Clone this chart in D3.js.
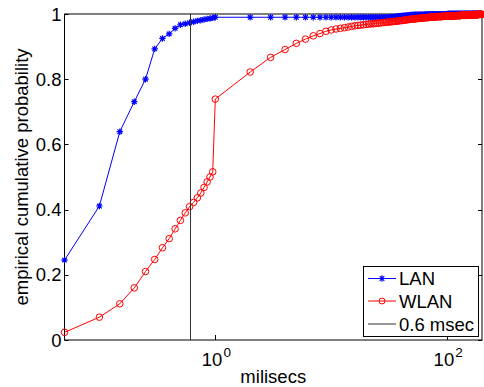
<!DOCTYPE html>
<html><head><meta charset="utf-8">
<script src="https://cdn.jsdelivr.net/npm/d3@7"></script>
<style>html,body{margin:0;padding:0;background:#fff;}svg{display:block;font-family:"Liberation Sans",Arial,sans-serif;}</style>
</head><body><svg id="c" width="484" height="387"></svg>
<script>
// Bins below 1 ms (step 0.05)
const lowX = [0.05,0.10,0.15,0.20,0.25,0.30,0.35,0.40,0.45,0.50,0.55,0.60,0.65,0.70,0.75,0.80,0.85,0.90,0.95,1.00];
const lanLowY  = [0.245,0.411,0.639,0.731,0.800,0.893,0.925,0.939,0.956,0.967,0.970,0.973,0.976,0.979,0.981,0.983,0.985,0.986,0.988,0.990];
const wlanLowY = [0.0235,0.070,0.111,0.160,0.210,0.247,0.283,0.311,0.341,0.367,0.390,0.409,0.422,0.436,0.451,0.468,0.485,0.500,0.516,0.739];
// Bins from 2 to 200 ms (step 1)
const highX = [2,3,4,5,6,7,8,9,10,11,12,13,14,15,16,17,18,19,20,21,22,23,24,25,26,27,28,29,30,
31,32,33,34,35,36,37,38,39,40,41,42,43,44,45,46,47,48,49,50,51,52,53,54,55,56,57,58,59,60,
61,62,63,64,65,66,67,68,69,70,71,72,73,74,75,76,77,78,79,80,81,82,83,84,85,86,87,88,89,90,
91,92,93,94,95,96,97,98,99,100,101,102,103,104,105,106,107,108,109,110,111,112,113,114,115,
116,117,118,119,120,121,122,123,124,125,126,127,128,129,130,131,132,133,134,135,136,137,138,139,140,
141,142,143,144,145,146,147,148,149,150,151,152,153,154,155,156,157,158,159,160,161,162,163,164,165,
166,167,168,169,170,171,172,173,174,175,176,177,178,179,180,181,182,183,184,185,186,187,188,189,190,
191,192,193,194,195,196,197,198,199,200];
const lanHighY = [
0.990,0.990,0.990,0.990,0.990,0.990,0.990,0.990,0.990,0.990,0.990,0.990,0.990,0.990,0.990,0.990,0.990,0.990,0.990,0.990,0.990,0.990,0.990,0.990,0.990,0.990,0.990,0.990,0.990,
0.990,0.990,0.991,0.991,0.991,0.992,0.992,0.993,0.993,0.994,
0.994,0.995,0.995,0.995,0.996,0.996,0.996,0.997,0.997,0.997,
0.997,0.998,0.998,0.998,0.998,0.998,0.998,0.998,0.998,0.998,
0.998,0.998,0.998,0.998,0.998,0.999,0.999,0.999,0.999,0.999,
0.999,0.999,0.999,0.999,0.999,0.999,0.999,0.999,0.999,0.999,
0.999,0.999,0.999,0.999,0.999,0.999,0.999,0.999,0.999,0.999,
0.999,0.999,0.999,0.999,0.999,0.999,0.999,0.999,0.999,0.999,
1,1,1,1,1,1,1,1,1,1,1,1,1,1,1,1,1,1,1,1,
1,1,1,1,1,1,1,1,1,1,1,1,1,1,1,1,1,1,1,1,
1,1,1,1,1,1,1,1,1,1,1,1,1,1,1,1,1,1,1,1,
1,1,1,1,1,1,1,1,1,1,1,1,1,1,1,1,1,1,1,1,
1,1,1,1,1,1,1,1,1,1];
const wlanHighY = [
0.822,0.867,0.891,0.910,0.923,0.933,0.940,0.947,0.951,0.954,0.956,0.958,0.960,0.962,0.964,0.965,0.966,0.967,0.968,
0.969,0.970,0.970,0.971,0.972,0.972,0.973,0.974,0.974,0.975,
0.975,0.976,0.976,0.977,0.977,0.978,0.978,0.979,0.979,0.980,
0.980,0.981,0.981,0.982,0.982,0.983,0.983,0.984,0.984,0.984,
0.985,0.985,0.985,0.986,0.986,0.986,0.987,0.987,0.987,0.987,
0.988,0.988,0.988,0.988,0.989,0.989,0.989,0.989,0.989,0.990,
0.990,0.990,0.990,0.990,0.991,0.991,0.991,0.991,0.991,0.991,
0.992,0.992,0.992,0.992,0.992,0.992,0.992,0.992,0.992,0.992,
0.993,0.993,0.993,0.993,0.993,0.993,0.993,0.993,0.993,0.993,
0.994,0.994,0.994,0.994,0.994,0.994,0.994,0.994,0.994,0.994,0.994,0.994,0.994,0.994,0.994,
0.995,0.995,0.995,0.995,0.995,0.995,0.995,0.995,0.995,0.995,0.995,0.995,0.995,0.995,0.995,
0.996,0.996,0.996,0.996,0.996,0.996,0.996,0.996,0.996,0.996,0.996,0.996,0.996,0.996,0.996,
0.997,0.997,0.997,0.997,0.997,0.997,0.997,0.997,0.997,0.997,0.997,0.997,0.997,0.997,0.997,0.997,0.997,0.997,0.997,0.997,
0.998,0.998,0.998,0.998,0.998,0.998,0.998,0.998,0.998,0.998,0.998,0.998,0.998,0.998,0.998,0.998,0.998,0.998,0.998,0.998,
0.999,0.999,0.999,0.999,0.999,0.999,0.999,0.999,0.999,0.999,0.999,0.999,0.999,0.999,0.999];
const thresholdMs = 0.6;
const seriesNames = ["LAN","WLAN","0.6 msec"];
const yTicks = [0,0.2,0.4,0.6,0.8,1];
const yTickLabels = ["0","0.2","0.4","0.6","0.8","1"];
const xTicks = [1,100];
const xTickBase = ["10","10"], xTickExp = ["0","2"];
const xLabel = "milisecs", yLabel = "empirical cumulative probability";

const svg = d3.select("#c");
const L = 64.5, R = 482, T = 14, B = 340;
const x = d3.scaleLog().domain([0.05,200]).range([L,R]);
const y = d3.scaleLinear().domain([0,1]).range([B,T]);
const FS = 18.5;

const lan = lowX.map((v,i)=>[v,lanLowY[i]]).concat(highX.map((v,i)=>[v,lanHighY[i]]));
const wlan = lowX.map((v,i)=>[v,wlanLowY[i]]).concat(highX.map((v,i)=>[v,wlanHighY[i]]));

// Axes box
const ax = svg.append("g");
ax.append("rect").attr("x",L).attr("y",T).attr("width",R-L).attr("height",B-T)
  .attr("fill","none").attr("stroke","#000").attr("stroke-width",1);
// y ticks
yTicks.forEach((t,i)=>{
  const yy = Math.round(y(t))+0.5;
  ax.append("line").attr("x1",L).attr("x2",L+4).attr("y1",yy).attr("y2",yy).attr("stroke","#000");
  ax.append("line").attr("x1",R).attr("x2",R-4).attr("y1",yy).attr("y2",yy).attr("stroke","#000");
  ax.append("text").attr("x",L-3).attr("y",y(t)).attr("dy","0.36em").attr("text-anchor","end")
    .attr("font-size",FS).text(yTickLabels[i]);
});
// x ticks
xTicks.forEach((t,i)=>{
  const xx = Math.round(x(t))+0.5;
  ax.append("line").attr("x1",xx).attr("x2",xx).attr("y1",B).attr("y2",B-5).attr("stroke","#000");
  ax.append("line").attr("x1",xx).attr("x2",xx).attr("y1",T).attr("y2",T+5).attr("stroke","#000");
  const tx = ax.append("text").attr("x",x(t)-13.5).attr("y",366).attr("font-size",FS);
  tx.append("tspan").text(xTickBase[i]);
  tx.append("tspan").attr("dy",-9).attr("dx",1).attr("font-size",13.5).text(xTickExp[i]);
});
ax.append("text").attr("x",(L+R)/2).attr("y",383).attr("text-anchor","middle").attr("font-size",FS).text(xLabel);
ax.append("text").attr("transform",`translate(28,${(T+B)/2}) rotate(-90)`).attr("text-anchor","middle")
  .attr("font-size",FS).text(yLabel);

const line = d3.line().x(d=>x(d[0])).y(d=>y(d[1]));
function star(g, cx, cy, col){
  const r=3.2, d=2.3;
  g.append("path").attr("d",`M${cx-r},${cy}L${cx+r},${cy}M${cx},${cy-r}L${cx},${cy+r}M${cx-d},${cy-d}L${cx+d},${cy+d}M${cx-d},${cy+d}L${cx+d},${cy-d}`)
   .attr("stroke",col).attr("stroke-width",1.2).attr("fill","none");
}
// LAN
const gl = svg.append("g");
gl.append("path").datum(lan).attr("d",line).attr("fill","none").attr("stroke","#0000ff").attr("stroke-width",1);
lan.forEach(d=>star(gl,x(d[0]),y(d[1]),"#0000ff"));
// WLAN
const gw = svg.append("g");
gw.append("path").datum(wlan).attr("d",line).attr("fill","none").attr("stroke","#ff0000").attr("stroke-width",1);
gw.selectAll("circle").data(wlan).join("circle").attr("cx",d=>x(d[0])).attr("cy",d=>y(d[1])).attr("r",3.3)
  .attr("fill","none").attr("stroke","#ff0000").attr("stroke-width",1);
// threshold
const vx = Math.round(x(thresholdMs))+0.5;
svg.append("line").attr("x1",vx).attr("x2",vx).attr("y1",T).attr("y2",B).attr("stroke","#333").attr("stroke-width",1);

// Legend
const lg = svg.append("g");
lg.append("rect").attr("x",363.5).attr("y",266.5).attr("width",115).attr("height",70)
  .attr("fill","#fff").attr("stroke","#000").attr("stroke-width",1);
const rowsY = [278.5,301,324];
const cols = ["#0000ff","#ff0000","#333"];
rowsY.forEach((ry,i)=>{
  lg.append("line").attr("x1",368).attr("x2",396).attr("y1",ry).attr("y2",ry).attr("stroke",cols[i]).attr("stroke-width",1);
  if(i===0) star(lg,382,ry,cols[0]);
  if(i===1) lg.append("circle").attr("cx",382).attr("cy",ry).attr("r",3).attr("fill","none").attr("stroke",cols[1]);
  lg.append("text").attr("x",399).attr("y",ry).attr("dy","0.36em").attr("font-size",FS).text(seriesNames[i]);
});
</script></body></html>
